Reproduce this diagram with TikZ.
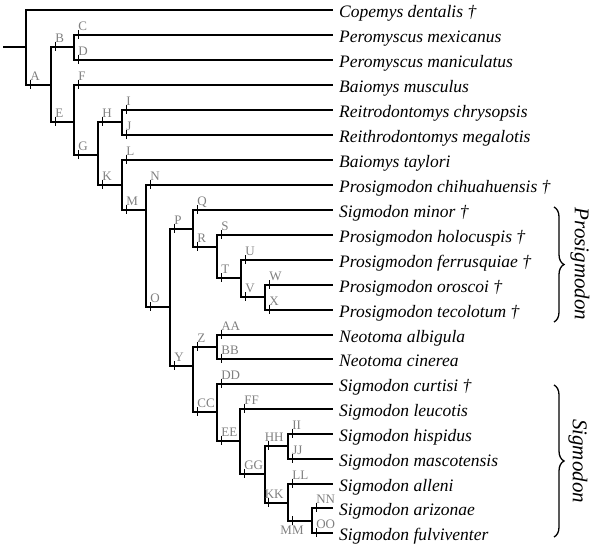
\documentclass[tikz,border=0pt]{standalone}
\usepackage{fontspec}
\setmainfont{Liberation Serif}
\usetikzlibrary{decorations.pathreplacing}

\begin{document}
\begin{tikzpicture}[x=1pt,y=-1pt,
        branch/.style={line width=1.9pt},
        tick/.style={line width=0.7pt},
        lbl/.style={anchor=base west,inner sep=0pt,xshift=-0.5pt,text=gray,font=\fontsize{13}{14}\selectfont},
        leaf/.style={anchor=west,inner xsep=6pt,inner ysep=0pt,text height=14pt,text depth=0pt,font=\fontsize{17.5}{20}\selectfont\itshape},
        clade/.style={rotate=-90,font=\fontsize{21}{24}\selectfont\itshape},
        curly/.style={decorate,decoration={brace,amplitude=10pt},line width=1.3pt}]
        \useasboundingbox (0,0) rectangle (596,549);
        \foreach \n/\x/\y in {root/26/47, A/51/85, B/74/47, E/74/122, G/98/155, H/122/122, K/122/185,
                M/146/210, O/170/307, P/193/229, R/217/247, T/241/278, V/265/297, Y/193/366, Z/217/347,
                CC/217/412, EE/240/441, GG/265/474, HH/288/446, KK/288/503, MM/312/521}
            \coordinate (\n) at (\x,\y);
        \foreach \n/\y/\t in {cop/10/{Copemys dentalis †}, C/35/{Peromyscus mexicanus},
                D/60/{Peromyscus maniculatus}, F/85/{Baiomys musculus}, I/110/{Reitrodontomys chrysopsis},
                J/135/{Reithrodontomys megalotis}, L/160/{Baiomys taylori}, N/185/{Prosigmodon chihuahuensis †},
                Q/210/{Sigmodon minor †}, S/235/{Prosigmodon holocuspis †}, U/260/{Prosigmodon ferrusquiae †},
                W/285/{Prosigmodon oroscoi †}, X/310/{Prosigmodon tecolotum †}, AA/335/{Neotoma albigula},
                BB/359/{Neotoma cinerea}, DD/384/{Sigmodon curtisi †}, FF/409/{Sigmodon leucotis},
                II/434/{Sigmodon hispidus}, JJ/459/{Sigmodon mascotensis}, LL/484/{Sigmodon alleni},
                NN/508/{Sigmodon arizonae}, OO/533/{Sigmodon fulviventer}}
            \node[leaf] (\n) at (333,\y) {\t};
        \coordinate (stem) at (3,47);
        \draw[branch] (stem) -- (root) |- (cop);
        \foreach \p/\c in {root/A, A/B, B/C, B/D, A/E, E/F, E/G, G/H, H/I, H/J, G/K, K/L, K/M, M/N, M/O,
                O/P, P/Q, P/R, R/S, R/T, T/U, T/V, V/W, V/X, O/Y, Y/Z, Z/AA, Z/BB, Y/CC, CC/DD, CC/EE,
                EE/FF, EE/GG, HH/II, HH/JJ, KK/LL, MM/NN, MM/OO}{
            \draw[branch] (\p) |- (\c);
            \draw[tick] (\p |- \c) ++(4.5,-5) node[lbl] {\c} -- ++(0,9);
        }
        \foreach \p/\c in {GG/HH, GG/KK}{
            \draw[branch] (\p) |- (\c);
            \draw[tick] (\p |- \c) ++(3,-5) node[lbl,xshift=-3pt] {\c} -- ++(0,9);
        }
        \draw[branch] (KK) |- (MM);
        \draw[tick] (KK |- MM) ++(4.5,-5) -- ++(0,9) node[lbl,anchor=north,xshift=0pt,yshift=-1pt] {MM};
        \coordinate (p1) at (554,207);
        \coordinate (p2) at (554,322);
        \draw[curly] (p1) -- (p2);
        \node[clade] (pros) at (580,264) {Prosigmodon};
        \coordinate (s1) at (554,385);
        \coordinate (s2) at (554,537);
        \draw[curly] (s1) -- (s2);
        \node[clade] (sig) at (578,461) {Sigmodon};
    \end{tikzpicture}
\end{document}
